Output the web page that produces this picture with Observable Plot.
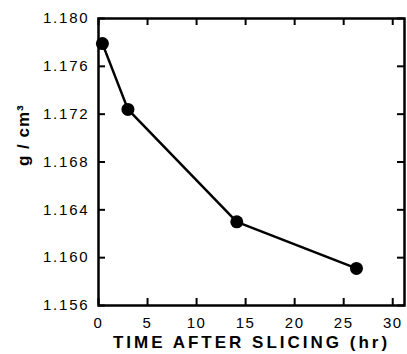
<!DOCTYPE html>
<html><head><meta charset="utf-8">
<script src="https://cdn.jsdelivr.net/npm/d3@7"></script>
<script src="https://cdn.jsdelivr.net/npm/@observablehq/plot@0.6"></script>
<style>body{margin:0;background:#fff} svg{display:block}</style>
</head><body><div id="chart"></div>
<script>
const hours = [0.4, 3.0, 14.1, 26.3];
const density = [1.1779, 1.1724, 1.1630, 1.1591];
const xTicks = [0, 5, 10, 15, 20, 25, 30];
const yTicks = [1.156, 1.160, 1.164, 1.168, 1.172, 1.176, 1.180];
const xLabel = "TIME AFTER SLICING (hr)";
const yLabel = "g / cm³";

const data = hours.map((h, i) => ({h, d: density[i]}));
const font = "'Liberation Sans', Arial, sans-serif";
const W = 407, H = 354, mL = 98, mR = 3, mT = 18, mB = 49;
const tickLen = 7;
const innerW = W - mL - mR, innerH = H - mT - mB;

const chart = Plot.plot({
  width: W, height: H,
  marginLeft: mL, marginRight: mR, marginTop: mT, marginBottom: mB,
  style: {fontFamily: font, fontSize: "15px"},
  x: {domain: [0, 31.2]},
  y: {domain: [1.156, 1.180]},
  marks: [
    Plot.frame({fill: "none", stroke: "black", strokeWidth: 2.5}),
    Plot.axisX({ticks: xTicks, tickSize: 0, tickPadding: 12, tickFormat: d => String(d), label: null, fontSize: 15}),
    Plot.axisY({ticks: yTicks, tickSize: 0, tickPadding: 9, tickFormat: d3.format(".3f"), label: null, fontSize: 15}),
    Plot.line(data, {x: "h", y: "d", stroke: "black", strokeWidth: 2.5}),
    Plot.dot(data, {x: "h", y: "d", r: 6.5, fill: "black", stroke: "none"}),
    Plot.text([xLabel], {frameAnchor: "bottom", dy: 42, fontSize: 17, fontWeight: "bold"}),
    Plot.text([yLabel], {frameAnchor: "left", dx: -75, dy: 4, rotate: -90, fontSize: 17, fontWeight: "bold"}),
    Plot.tickX(xTicks, {x: d => d, insetTop: innerH - tickLen, stroke: "black", strokeWidth: 2}),
    Plot.tickX(xTicks, {x: d => d, insetBottom: innerH - tickLen, stroke: "black", strokeWidth: 2}),
    Plot.tickY(yTicks, {y: d => d, insetRight: innerW - tickLen, stroke: "black", strokeWidth: 2}),
    Plot.tickY(yTicks, {y: d => d, insetLeft: innerW - tickLen, stroke: "black", strokeWidth: 2})
  ]
});
const sel = d3.select(chart);
sel.selectAll('g[aria-label="y-axis tick label"] text').style("letter-spacing", "1.8px");
sel.selectAll('g[aria-label="x-axis tick label"] text').style("letter-spacing", "1.5px");
sel.selectAll("text").filter(function() { return this.textContent === xLabel; }).style("letter-spacing", "3px");
sel.selectAll("text").filter(function() { return this.textContent === yLabel; }).style("letter-spacing", "1px");
document.getElementById("chart").appendChild(chart);
</script>
</body></html>
